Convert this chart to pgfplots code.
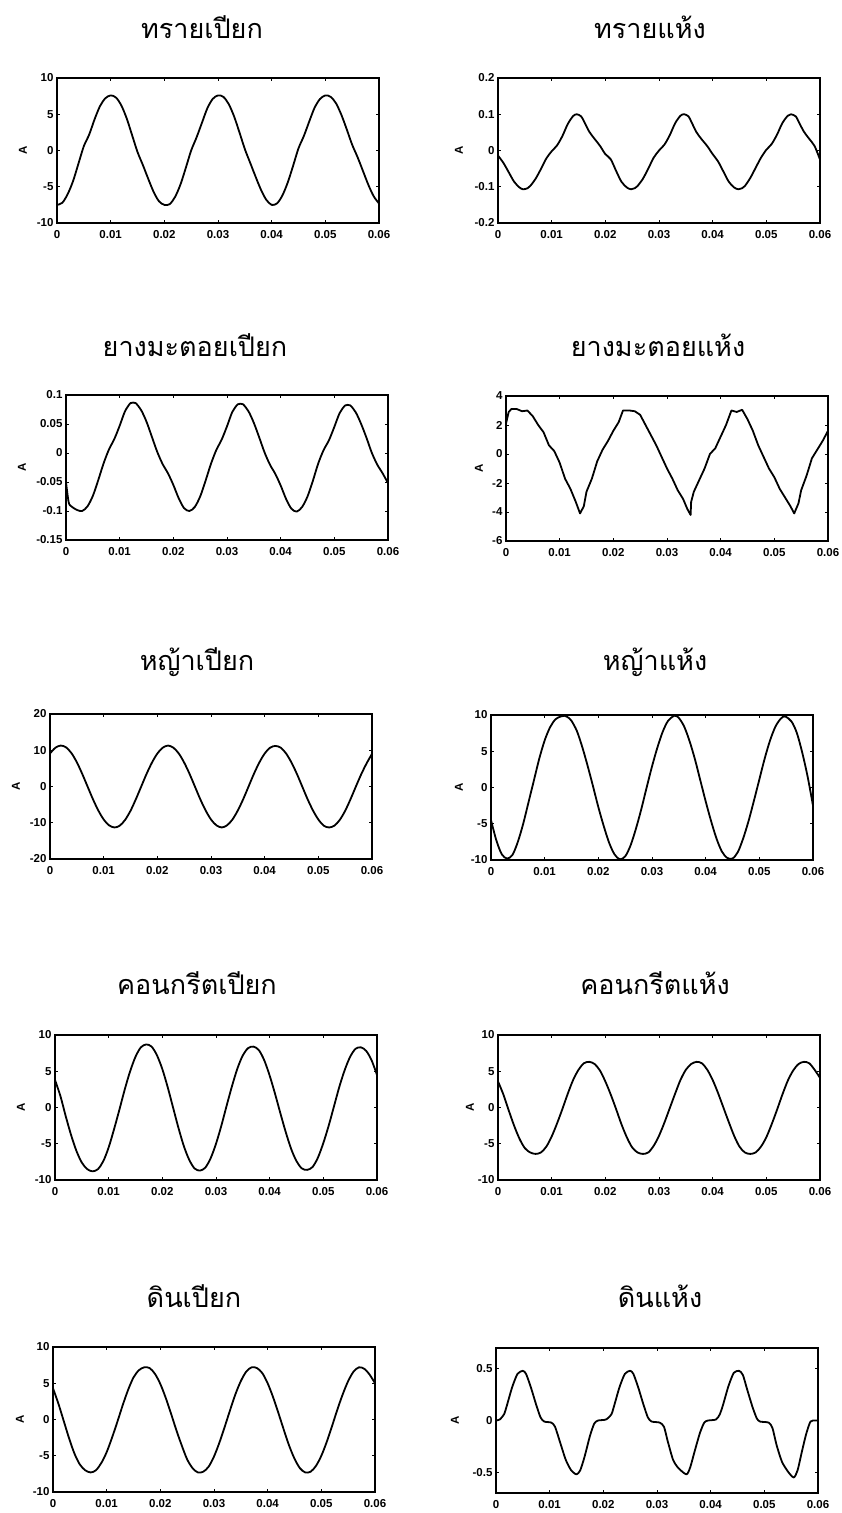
\documentclass[border=0pt]{standalone}
\usepackage{fontspec}
\setmainfont{Liberation Sans}
\newfontfamily\thaifont[Script=Thai]{Loma}
\usepackage{pgfplots}
\pgfplotsset{compat=1.18}

\pgfplotsset{
  panel/.style={
    scale only axis, width=322pt, height=145pt,
    anchor=north west,
    xmin=0, xmax=60,
    xtick={0,10,20,30,40,50,60},
    xticklabels={0,0.01,0.02,0.03,0.04,0.05,0.06},
    axis line style={line width=1.9pt},
    tick style={line width=0.9pt, black},
    tick align=inside, major tick length=3pt,
    tick label style={font=\bfseries\fontsize{11.5}{12}\selectfont},
    xticklabel style={yshift=-4pt},
    ylabel={A},
    ylabel style={font=\bfseries\fontsize{11.5}{12}\selectfont},
  },
  ylab/.style={ylabel style={at={(axis description cs:{-#1/322},0.5)}, anchor=center}},
  curve/.style={black, line width=1.8pt, line join=round, line cap=round},
}
\tikzset{panel title/.style={font=\thaifont\fontsize{27}{30}\selectfont, anchor=center}}

\begin{document}
\begin{tikzpicture}
\useasboundingbox (0pt,0pt) rectangle (841pt,-1513pt);

% ---------------- row 1 ----------------
\node[panel title] at (202pt,-27pt) {ทรายเปียก};
\node[panel title] at (650pt,-27pt) {ทรายแห้ง};

\begin{axis}[panel, at={(57pt,-78pt)}, ylab=34,
  ymin=-10, ymax=10, ytick={-10,-5,0,5,10}, yticklabels={-10,-5,0,5,10}]
\addplot[curve, smooth, tension=0.5] coordinates {
(0,-7.5) (1,-7.2) (2,-6.0) (3,-4.2) (4,-1.8) (5,0.6) (6,2.2) (7,4.3) (8,6.1) (9,7.2)
(10,7.6) (11,7.3) (12,6.2) (13,4.4) (14,2.1) (15,-0.2) (16,-2.0) (17,-3.9) (18,-5.7) (19,-7.0)
(20,-7.5) (21,-7.4) (22,-6.4) (23,-4.7) (24,-2.4) (25,0.0) (26,1.8) (27,3.8) (28,5.8) (29,7.1)
(30,7.6) (31,7.4) (32,6.4) (33,4.7) (34,2.5) (35,0.2) (36,-1.7) (37,-3.6) (38,-5.4) (39,-6.8)
(40,-7.5) (41,-7.3) (42,-6.2) (43,-4.4) (44,-2.1) (45,0.3) (46,2.0) (47,4.0) (48,5.9) (49,7.1)
(50,7.6) (51,7.4) (52,6.5) (53,4.9) (54,2.9) (55,0.8) (56,-0.9) (57,-2.8) (58,-4.7) (59,-6.3)
(60,-7.3)};
\end{axis}

\begin{axis}[panel, at={(498pt,-78pt)}, ylab=39,
  ymin=-0.2, ymax=0.2, ytick={-0.2,-0.1,0,0.1,0.2}, yticklabels={-0.2,-0.1,0,0.1,0.2}]
\addplot[curve, smooth, tension=0.5] coordinates {
(0,-0.014) (1,-0.034) (2,-0.060) (3,-0.086) (4,-0.102) (4.7,-0.107) (5.5,-0.104) (6,-0.098) (7,-0.078) (8,-0.051) (9,-0.022)
(10,-0.002) (11,0.014) (12,0.040) (13,0.073) (14,0.095) (14.7,0.100) (15.5,0.094) (16,0.081) (17,0.052) (18,0.032) (19,0.013)
(20,-0.010) (21,-0.024) (22,-0.056) (23,-0.086) (24,-0.102) (24.8,-0.107) (25.5,-0.104) (26,-0.098) (27,-0.078) (28,-0.050) (29,-0.020)
(30,0.000) (31,0.016) (32,0.042) (33,0.075) (34,0.096) (34.7,0.100) (35.5,0.094) (36,0.080) (37,0.050) (38,0.030) (39,0.012)
(40,-0.010) (41,-0.030) (42,-0.058) (43,-0.086) (44,-0.102) (44.8,-0.107) (45.5,-0.104) (46,-0.098) (47,-0.076) (48,-0.048) (49,-0.020)
(50,0.002) (51,0.018) (52,0.044) (53,0.076) (54,0.096) (54.6,0.100) (55.5,0.094) (56,0.080) (57,0.052) (58,0.032) (59,0.012)
(60,-0.025)};
\end{axis}

% ---------------- row 2 ----------------
\node[panel title] at (195pt,-345pt) {ยางมะตอยเปียก};
\node[panel title] at (658pt,-345pt) {ยางมะตอยแห้ง};

\begin{axis}[panel, at={(66pt,-395pt)}, ylab=44,
  ymin=-0.15, ymax=0.1, ytick={-0.15,-0.1,-0.05,0,0.05,0.1},
  yticklabels={-0.15,-0.1,-0.05,0,0.05,0.1}]
\addplot[curve, smooth, tension=0.5] coordinates {
(0,-0.050) (0.5,-0.085) (1,-0.092) (2,-0.098) (3,-0.100) (4,-0.092) (5,-0.074) (6,-0.047) (7,-0.018) (8,0.006) (9,0.024)
(10,0.047) (11,0.072) (12,0.086) (12.5,0.087) (13,0.086) (14,0.074) (15,0.054) (16,0.028) (17,0.002) (18,-0.019) (19,-0.035)
(20,-0.055) (21,-0.078) (22,-0.095) (23,-0.100) (24,-0.093) (25,-0.075) (26,-0.048) (27,-0.019) (28,0.005) (29,0.023)
(30,0.046) (31,0.071) (32,0.084) (32.5,0.085) (33,0.084) (34,0.072) (35,0.052) (36,0.027) (37,0.001) (38,-0.020) (39,-0.036)
(40,-0.056) (41,-0.079) (42,-0.096) (43,-0.101) (44,-0.093) (45,-0.075) (46,-0.048) (47,-0.018) (48,0.005) (49,0.022)
(50,0.045) (51,0.069) (52,0.082) (52.5,0.083) (53,0.082) (54,0.070) (55,0.050) (56,0.026) (57,0.000) (58,-0.020) (59,-0.035)
(60,-0.052)};
\end{axis}

\begin{axis}[panel, at={(506pt,-396pt)}, ylab=27,
  ymin=-6, ymax=4, ytick={-6,-4,-2,0,2,4}, yticklabels={-6,-4,-2,0,2,4}]
\addplot[curve] coordinates {
(0,2.1) (0.5,2.9) (1,3.1) (2,3.1) (3,2.95) (4,3.0) (5,2.6) (6,2.0) (7,1.5) (8,0.6) (9,0.2)
(10,-0.6) (11,-1.7) (12,-2.4) (13,-3.3) (13.8,-4.1) (14.5,-3.6) (15,-2.6) (16,-1.7) (17,-0.5) (18,0.3) (19,0.9)
(20,1.6) (21,2.2) (21.8,3.0) (23,3.0) (24,2.95) (25,2.7) (26,2.0) (27,1.3) (28,0.6) (29,-0.2)
(30,-1.0) (31,-1.7) (32,-2.5) (33,-3.1) (33.8,-3.8) (34.4,-4.2) (34.5,-3.3) (35,-2.6) (36,-1.8) (37,-1.0) (38,0.0) (39,0.4)
(40,1.2) (41,2.0) (42,3.0) (43,2.9) (44,3.05) (45,2.4) (46,1.6) (47,0.6) (48,-0.2) (49,-1.0)
(50,-1.6) (51,-2.4) (52,-3.0) (53,-3.6) (53.7,-4.1) (54.5,-3.4) (55,-2.5) (56,-1.5) (57,-0.3) (58,0.3) (59,0.9)
(60,1.6)};
\end{axis}

% ---------------- row 3 ----------------
\node[panel title] at (197pt,-662pt) {หญ้าเปียก};
\node[panel title] at (655pt,-662pt) {หญ้าแห้ง};

\begin{axis}[panel, at={(50pt,-714pt)}, ylab=34,
  ymin=-20, ymax=20, ytick={-20,-10,0,10,20}, yticklabels={-20,-10,0,10,20}]
\addplot[curve, smooth, tension=0.5] coordinates {
(0,9.1) (1,10.7) (2,11.3) (3,10.8) (4,9.2) (5,6.7) (6,3.5) (7,0.0) (8,-3.5) (9,-6.6)
(10,-9.1) (11,-10.7) (12,-11.3) (13,-10.8) (14,-9.2) (15,-6.7) (16,-3.5) (17,0.0) (18,3.5) (19,6.6)
(20,9.1) (21,10.7) (22,11.3) (23,10.7) (24,9.1) (25,6.6) (26,3.5) (27,0.0) (28,-3.5) (29,-6.6)
(30,-9.1) (31,-10.7) (32,-11.3) (33,-10.7) (34,-9.1) (35,-6.6) (36,-3.5) (37,0.0) (38,3.5) (39,6.6)
(40,9.1) (41,10.7) (42,11.2) (43,10.7) (44,9.1) (45,6.6) (46,3.5) (47,0.0) (48,-3.5) (49,-6.6)
(50,-9.1) (51,-10.8) (52,-11.3) (53,-10.8) (54,-9.2) (55,-6.7) (56,-3.5) (57,0.0) (58,3.4) (59,6.4)
(60,9.0)};
\end{axis}

\begin{axis}[panel, at={(491pt,-715pt)}, ylab=32,
  ymin=-10, ymax=10, ytick={-10,-5,0,5,10}, yticklabels={-10,-5,0,5,10}]
\addplot[curve, smooth, tension=0.5] coordinates {
(0,-4.5) (1,-7.3) (2,-9.2) (3,-9.8) (4,-9.3) (5,-7.5) (6,-5.0) (7,-2.0) (8,1.0) (9,4.0)
(10,6.5) (11,8.3) (12,9.4) (13,9.8) (13.7,9.9) (14.5,9.6) (15,9.2) (16,7.8) (17,5.6) (18,3.0) (19,0.2)
(20,-2.7) (21,-5.3) (22,-7.6) (23,-9.2) (24,-9.9) (25,-9.5) (26,-8.0) (27,-5.7) (28,-3.0) (29,0.0)
(30,2.9) (31,5.5) (32,7.7) (33,9.2) (34.2,9.9) (35,9.6) (36,8.4) (37,6.4) (38,3.9) (39,1.0)
(40,-1.9) (41,-4.6) (42,-7.0) (43,-8.8) (44,-9.7) (45,-9.8) (46,-8.9) (47,-7.0) (48,-4.6) (49,-1.8)
(50,1.1) (51,4.0) (52,6.5) (53,8.4) (54,9.5) (54.8,9.8) (56,9.1) (57,7.5) (58,4.8) (59,1.5)
(60,-2.5)};
\end{axis}

% ---------------- row 4 ----------------
\node[panel title] at (197pt,-983pt) {คอนกรีตเปียก};
\node[panel title] at (655pt,-983pt) {คอนกรีตแห้ง};

\begin{axis}[panel, at={(55pt,-1035pt)}, ylab=34,
  ymin=-10, ymax=10, ytick={-10,-5,0,5,10}, yticklabels={-10,-5,0,5,10}]
\addplot[curve, smooth, tension=0.5] coordinates {
(0,3.8) (1,1.6) (2,-1.2) (3,-3.8) (4,-6.0) (5,-7.6) (6,-8.5) (7,-8.8) (8,-8.5) (9,-7.4)
(10,-5.5) (11,-3.0) (12,-0.3) (13,2.5) (14,5.0) (15,7.0) (16,8.3) (17,8.7) (18,8.4) (19,7.2)
(20,5.3) (21,2.8) (22,0.0) (23,-2.8) (24,-5.3) (25,-7.2) (26,-8.4) (27,-8.7) (28,-8.3) (29,-7.0)
(30,-5.0) (31,-2.5) (32,0.3) (33,3.0) (34,5.4) (35,7.2) (36,8.2) (37,8.4) (38,7.9) (39,6.5)
(40,4.4) (41,1.9) (42,-0.8) (43,-3.4) (44,-5.7) (45,-7.4) (46,-8.4) (47,-8.6) (48,-8.2) (49,-6.9)
(50,-4.9) (51,-2.5) (52,0.2) (53,2.9) (54,5.2) (55,7.0) (56,8.1) (57,8.3) (58,7.8) (59,6.5)
(60,4.5)};
\end{axis}

\begin{axis}[panel, at={(498pt,-1035pt)}, ylab=28,
  ymin=-10, ymax=10, ytick={-10,-5,0,5,10}, yticklabels={-10,-5,0,5,10}]
\addplot[curve, smooth, tension=0.5] coordinates {
(0,3.6) (1,1.8) (2,-0.4) (3,-2.5) (4,-4.3) (5,-5.6) (6,-6.2) (7,-6.4) (8,-6.2) (9,-5.4)
(10,-4.0) (11,-2.2) (12,-0.2) (13,1.9) (14,3.8) (15,5.2) (16,6.1) (17,6.3) (18,6.0) (19,5.1)
(20,3.6) (21,1.8) (22,-0.2) (23,-2.3) (24,-4.1) (25,-5.5) (26,-6.2) (27,-6.4) (28,-6.2) (29,-5.3)
(30,-3.9) (31,-2.1) (32,-0.1) (33,1.9) (34,3.8) (35,5.2) (36,6.0) (37,6.3) (38,6.1) (39,5.2)
(40,3.8) (41,2.0) (42,0.0) (43,-2.0) (44,-3.9) (45,-5.4) (46,-6.2) (47,-6.4) (48,-6.2) (49,-5.4)
(50,-4.1) (51,-2.3) (52,-0.3) (53,1.8) (54,3.7) (55,5.1) (56,6.0) (57,6.3) (58,6.1) (59,5.2)
(60,4.1)};
\end{axis}

% ---------------- row 5 ----------------
\node[panel title] at (194pt,-1296pt) {ดินเปียก};
\node[panel title] at (660pt,-1296pt) {ดินแห้ง};

\begin{axis}[panel, at={(53pt,-1347pt)}, ylab=33,
  ymin=-10, ymax=10, ytick={-10,-5,0,5,10}, yticklabels={-10,-5,0,5,10}]
\addplot[curve, smooth, tension=0.5] coordinates {
(0,4.3) (1,2.2) (2,-0.2) (3,-2.6) (4,-4.7) (5,-6.2) (6,-7.0) (7,-7.3) (8,-7.0) (9,-6.0)
(10,-4.5) (11,-2.5) (12,-0.3) (13,2.0) (14,4.1) (15,5.8) (16,6.8) (17,7.2) (18,7.1) (19,6.3)
(20,4.9) (21,3.0) (22,0.8) (23,-1.5) (24,-3.6) (25,-5.5) (26,-6.7) (27,-7.3) (28,-7.2) (29,-6.5)
(30,-5.1) (31,-3.2) (32,-1.0) (33,1.3) (34,3.5) (35,5.3) (36,6.6) (37,7.2) (38,7.1) (39,6.4)
(40,5.0) (41,3.1) (42,0.9) (43,-1.4) (44,-3.6) (45,-5.4) (46,-6.7) (47,-7.3) (48,-7.2) (49,-6.4)
(50,-5.0) (51,-3.1) (52,-0.9) (53,1.4) (54,3.5) (55,5.3) (56,6.6) (57,7.2) (58,7.0) (59,6.2)
(60,5.0)};
\end{axis}

\begin{axis}[panel, at={(496pt,-1348pt)}, ylab=41,
  ymin=-0.7, ymax=0.7, ytick={-0.5,0,0.5}, yticklabels={-0.5,0,0.5}]
\addplot[curve, smooth, tension=0.4] coordinates {
(0,0.0) (0.7,0.01) (1.5,0.06) (2,0.14) (3,0.32) (4,0.45) (5,0.48) (5.6,0.45) (6.5,0.32) (7.5,0.15) (8.3,0.03)
(9,-0.01) (10.3,-0.02) (11,-0.06) (12,-0.22) (13,-0.38) (14,-0.48) (15,-0.52) (15.7,-0.48) (16.5,-0.35) (17.5,-0.15) (18.3,-0.03)
(19,0.0) (20.5,0.01) (21.5,0.06) (22,0.14) (23,0.32) (24,0.45) (25,0.48) (25.6,0.45) (26.5,0.32) (27.5,0.15) (28.3,0.03)
(29,-0.01) (30.5,-0.02) (31.3,-0.06) (32,-0.20) (33,-0.38) (34,-0.46) (35.5,-0.52) (36.2,-0.45) (37,-0.30) (38,-0.12) (38.8,-0.02)
(39.5,0.0) (41,0.01) (41.7,0.06) (42.3,0.15) (43.3,0.33) (44.3,0.46) (45.3,0.48) (46,0.44) (46.8,0.30) (47.8,0.13) (48.6,0.02)
(49.2,-0.01) (50.8,-0.02) (51.5,-0.07) (52.3,-0.24) (53.3,-0.40) (54.5,-0.50) (55.5,-0.55) (56.2,-0.48) (57,-0.30) (57.8,-0.13) (58.6,-0.01)
(59.5,0.0) (60,0.0)};
\end{axis}
\end{tikzpicture}
\end{document}
